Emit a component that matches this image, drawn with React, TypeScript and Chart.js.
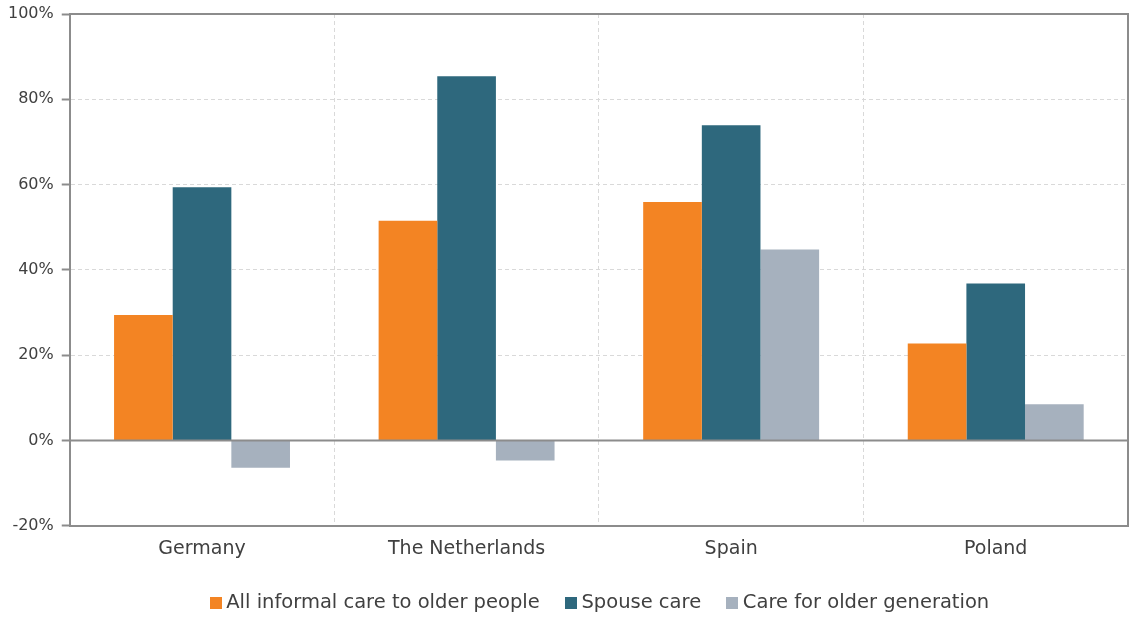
import React, { useEffect, useRef } from "react";
import { Chart, registerables } from "chart.js";

Chart.register(...registerables);

const categories = ["Germany", "The Netherlands", "Spain", "Poland"];
const allInformalCare = [29.4, 51.5, 55.9, 22.7];
const spouseCare = [59.4, 85.4, 73.9, 36.8];
const olderGenerationCare = [-6.4, -4.7, 44.8, 8.5];
const seriesNames = ["All informal care to older people", "Spouse care", "Care for older generation"];
const seriesColors = ["#F38423", "#2E687D", "#A6B1BE"];

const FONT = "'DejaVu Sans', sans-serif";
const LEGEND_PAD = 30;
const LEGEND_FONT = 19.5;

function swatch(color: string) {
  const c = document.createElement("canvas");
  c.width = 12;
  c.height = 12;
  const g = c.getContext("2d")!;
  g.fillStyle = color;
  g.fillRect(0, 0, 12, 12);
  return c;
}

export default function App() {
  const ref = useRef<HTMLCanvasElement | null>(null);
  useEffect(() => {
    document.body.style.margin = "0";
    const swatches = seriesColors.map(swatch);
    const frame = {
      id: "frame",
      afterLayout(chart: any) {
        const lg = chart.legend;
        const { chartArea } = chart;
        const dx = (chartArea.left + chartArea.right) / 2 + 3 - (lg.left + lg.right) / 2;
        lg.left += dx;
        lg.right += dx;
        const dy = 603 - LEGEND_PAD - LEGEND_FONT / 2 - lg.top;
        lg.top += dy;
        lg.bottom += dy;
      },
      afterDraw(chart: any) {
        const { ctx, chartArea } = chart;
        const y = chart.scales.y;
        ctx.save();
        ctx.strokeStyle = "#8C8C8C";
        ctx.lineWidth = 2;
        ctx.beginPath();
        ctx.moveTo(chartArea.left, chartArea.top);
        ctx.lineTo(chartArea.right, chartArea.top);
        ctx.lineTo(chartArea.right, chartArea.bottom);
        ctx.stroke();
        const z = y.getPixelForValue(0);
        ctx.beginPath();
        ctx.moveTo(chartArea.left, z);
        ctx.lineTo(chartArea.right, z);
        ctx.stroke();
        ctx.restore();
      },
    };
    const data = [allInformalCare, spouseCare, olderGenerationCare];
    const chart = new Chart(ref.current!, {
      type: "bar",
      data: {
        labels: categories,
        datasets: seriesNames.map((n, i) => ({
          label: n,
          data: data[i],
          backgroundColor: seriesColors[i],
          borderWidth: 0,
          barPercentage: 1,
          categoryPercentage: 0.665,
        })),
      },
      options: {
        animation: false,
        responsive: false,
        maintainAspectRatio: false,
        layout: { padding: { top: 6, right: 1, left: 0, bottom: -15 } },
        scales: {
          x: {
            grid: {
              offset: true,
              color: "#D9D9D9",
              lineWidth: 1,
              drawTicks: false,
            },
            border: { display: true, color: "#8C8C8C", width: 2, dash: [4, 3] },
            ticks: { color: "#404040", font: { family: FONT, size: 19 }, padding: 12 },
          },
          y: {
            min: -20,
            max: 100,
            grid: {
              color: "#D9D9D9",
              lineWidth: 1,
              drawTicks: true,
              tickLength: 8,
              tickColor: "#8C8C8C",
              tickWidth: 2,
            },
            border: { display: true, color: "#8C8C8C", width: 2, dash: [4, 3] },
            ticks: {
              stepSize: 20,
              color: "#404040",
              font: { family: FONT, size: 16, lineHeight: 0.75 },
              padding: 8,
              callback: (v: any) => v + "%",
            },
          },
        },
        plugins: {
          legend: {
            position: "bottom",
            labels: {
              usePointStyle: true,
              pointStyleWidth: 2,
              boxHeight: 12,
              padding: LEGEND_PAD,
              color: "#404040",
              font: { family: FONT, size: LEGEND_FONT },
              generateLabels: (c: any) =>
                Chart.defaults.plugins.legend.labels.generateLabels(c).map((it: any, i: number) => ({
                  ...it,
                  pointStyle: swatches[i],
                  lineWidth: 0,
                })),
            },
          },
          tooltip: { enabled: false },
        },
      },
      plugins: [frame],
    });
    return () => chart.destroy();
  }, []);
  return (
    <div style={{ width: 1129, height: 617 }}>
      <canvas ref={ref} width={1129} height={617} style={{ display: "block" }} />
    </div>
  );
}
